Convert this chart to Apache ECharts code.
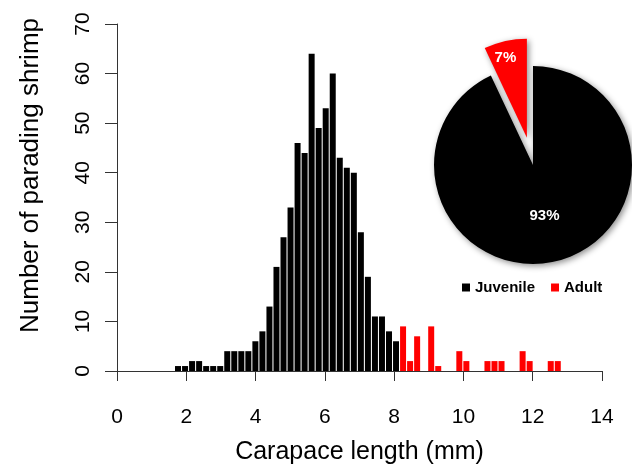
<!DOCTYPE html>
<html style="height: 100%">
<head>
  <meta charset="utf-8">
  <title>Carapace length of parading shrimp</title>
  <style type="text/css">
    body { margin: 0; background: #fff; }
    #container { width: 632px; height: 470px; }
  </style>
</head>
<body>
  <div id="container"></div>
  <script type="text/javascript" src="https://cdn.jsdelivr.net/npm/echarts@6/dist/echarts.min.js"></script>
  <script type="text/javascript">
    // histogram bins (mm), counts
    var binStart = 1.66;
    var binWidth = 0.203;
    var juvenileCounts = [1, 1, 2, 2, 1, 1, 1, 4, 4, 4, 4, 6, 8, 13, 21, 27, 33, 46, 44, 64, 49, 53, 60, 43, 41, 40, 28, 19, 11, 11, 8, 6];
    var adultCounts = [9, 2, 7, 0, 9, 1, 0, 0, 4, 2, 0, 0, 2, 2, 2, 0, 0, 4, 2, 0, 0, 2, 2];
    var xTicks = [0, 2, 4, 6, 8, 10, 12, 14];
    var yTicks = [0, 10, 20, 30, 40, 50, 60, 70];
    var pieNames = ['Juvenile', 'Adult'];
    var pieShares = [93, 7];
    var pieColors = ['#000000', '#ff0000'];

    var FONT = 'Liberation Sans, Arial, sans-serif';

    function binData(counts, offset) {
      var out = [];
      counts.forEach(function (c, i) {
        if (c > 0) out.push([binStart + (offset + i + 0.5) * binWidth, c]);
      });
      return out;
    }

    var dom = document.getElementById('container');
    var chart = echarts.init(dom);

    var option = {
      animation: false,
      grid: { left: 117, right: 30, top: 24, bottom: 94, containLabel: false },
      xAxis: {
        type: 'value',
        min: xTicks[0], max: xTicks[xTicks.length - 1], interval: 2,
        offset: 15,
        name: 'Carapace length (mm)',
        nameLocation: 'middle',
        nameGap: 54,
        nameTextStyle: { fontFamily: FONT, fontSize: 25, color: '#000' },
        axisLine: { show: true, lineStyle: { color: '#333', width: 1 } },
        axisTick: { show: true, length: 10, lineStyle: { color: '#333' } },
        axisLabel: { fontFamily: FONT, fontSize: 21, color: '#000', margin: 21 },
        splitLine: { show: false }
      },
      yAxis: {
        type: 'value',
        min: yTicks[0], max: yTicks[yTicks.length - 1], interval: 10,
        offset: 1,
        name: 'Number of parading shrimp',
        nameLocation: 'middle',
        nameRotate: 90,
        nameGap: 72,
        nameTextStyle: { fontFamily: FONT, fontSize: 26, color: '#000', padding: [0, 0, 0, 44] },
        axisLine: { show: true, lineStyle: { color: '#333', width: 1 } },
        axisTick: { show: true, length: 12, lineStyle: { color: '#333' } },
        axisLabel: { fontFamily: FONT, fontSize: 21, color: '#000', rotate: 90, margin: 22 },
        splitLine: { show: false }
      },
      legend: {
        data: pieNames,
        left: 462,
        top: 280,
        padding: 0,
        icon: 'rect',
        itemWidth: 8,
        itemHeight: 8,
        itemGap: 16,
        selectedMode: false,
        textStyle: { fontFamily: FONT, fontSize: 15, fontWeight: 'bold', color: '#000' }
      },
      series: [
        {
          name: 'juvenile bins',
          type: 'bar',
          stack: 'hist',
          barWidth: 6,
          silent: true,
          itemStyle: { color: '#000' },
          data: binData(juvenileCounts, 0)
        },
        {
          name: 'adult bins',
          type: 'bar',
          stack: 'hist',
          barWidth: 6,
          silent: true,
          itemStyle: { color: '#ff0000' },
          data: binData(adultCounts, juvenileCounts.length)
        },
        {
          name: 'share',
          type: 'pie',
          center: [533, 165],
          radius: 99,
          startAngle: 90,
          clockwise: true,
          selectedMode: 'single',
          selectedOffset: 28,
          silent: true,
          label: {
            show: true,
            position: 'inside',
            formatter: '{c}%',
            fontFamily: FONT,
            fontSize: 15,
            fontWeight: 'bold',
            color: '#fff'
          },
          labelLine: { show: false },
          labelLayout: function (params) {
            if (params.dataIndex === 1) return { dx: -10, dy: -29 };
            return {};
          },
          itemStyle: {
            shadowBlur: 6,
            shadowColor: 'rgba(0,0,0,0.45)',
            shadowOffsetX: 2,
            shadowOffsetY: 2
          },
          data: pieNames.map(function (n, i) {
            return {
              name: n,
              value: pieShares[i],
              selected: i === 1,
              itemStyle: { color: pieColors[i] }
            };
          })
        }
      ]
    };

    chart.setOption(option);
  </script>
</body>
</html>
